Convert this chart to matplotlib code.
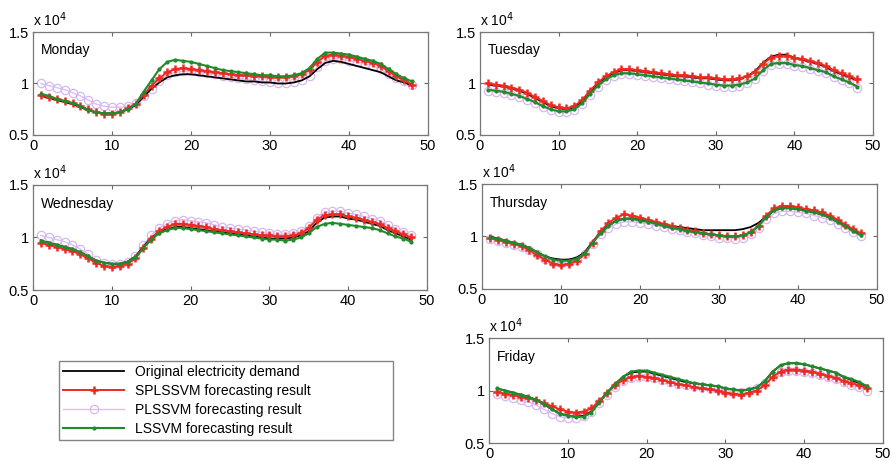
import matplotlib.pyplot as plt
import numpy as np

plt.rcParams['font.family'] = ['Liberation Sans', 'DejaVu Sans']

# half-hour index, demand in units of 10^4
hours = list(range(1, 49))
days = ['Monday', 'Tuesday', 'Wednesday', 'Thursday', 'Friday']
labels = ['Original electricity demand', 'SPLSSVM forecasting result',
          'PLSSVM forecasting result', 'LSSVM forecasting result']

mon_orig = [0.88, 0.86, 0.84, 0.82, 0.80, 0.77, 0.74, 0.72, 0.71, 0.71, 0.72, 0.75, 0.79, 0.87, 0.95, 1.01,
            1.06, 1.08, 1.09, 1.09, 1.08, 1.07, 1.06, 1.05, 1.04, 1.03, 1.02, 1.02, 1.01, 1.01, 1.00, 1.00,
            1.01, 1.03, 1.07, 1.14, 1.20, 1.22, 1.21, 1.19, 1.17, 1.15, 1.13, 1.11, 1.07, 1.03, 1.01, 0.98]
mon_spl = [0.89, 0.87, 0.85, 0.83, 0.81, 0.78, 0.75, 0.72, 0.70, 0.70, 0.72, 0.76, 0.80, 0.89, 0.98, 1.05,
           1.11, 1.14, 1.15, 1.14, 1.13, 1.12, 1.11, 1.10, 1.09, 1.08, 1.08, 1.07, 1.07, 1.06, 1.06, 1.06,
           1.07, 1.09, 1.13, 1.21, 1.27, 1.28, 1.27, 1.26, 1.24, 1.22, 1.20, 1.17, 1.12, 1.07, 1.03, 0.99]
mon_pl = [1.00, 0.98, 0.96, 0.94, 0.91, 0.88, 0.84, 0.80, 0.78, 0.77, 0.77, 0.78, 0.81, 0.88, 0.95, 1.02,
          1.08, 1.11, 1.12, 1.12, 1.11, 1.10, 1.09, 1.07, 1.06, 1.05, 1.04, 1.03, 1.02, 1.01, 1.00, 1.00,
          1.01, 1.03, 1.07, 1.16, 1.22, 1.24, 1.24, 1.22, 1.21, 1.19, 1.17, 1.14, 1.09, 1.05, 1.02, 0.99]
mon_ls = [0.90, 0.88, 0.85, 0.83, 0.81, 0.78, 0.74, 0.72, 0.71, 0.71, 0.72, 0.75, 0.80, 0.92, 1.03, 1.14,
          1.21, 1.23, 1.22, 1.21, 1.19, 1.17, 1.15, 1.13, 1.12, 1.11, 1.10, 1.09, 1.08, 1.08, 1.07, 1.07,
          1.08, 1.10, 1.15, 1.24, 1.30, 1.30, 1.29, 1.28, 1.26, 1.24, 1.22, 1.19, 1.14, 1.09, 1.05, 1.02]

tue_orig = [0.99, 0.98, 0.97, 0.95, 0.93, 0.90, 0.86, 0.82, 0.78, 0.76, 0.75, 0.77, 0.83, 0.92, 1.00, 1.06,
            1.10, 1.13, 1.13, 1.12, 1.11, 1.10, 1.09, 1.08, 1.07, 1.07, 1.06, 1.05, 1.05, 1.04, 1.03, 1.03,
            1.04, 1.07, 1.12, 1.20, 1.26, 1.28, 1.28, 1.25, 1.23, 1.21, 1.19, 1.16, 1.12, 1.09, 1.06, 1.03]
tue_spl = [1.00, 0.99, 0.98, 0.96, 0.94, 0.91, 0.87, 0.83, 0.79, 0.77, 0.76, 0.78, 0.84, 0.93, 1.01, 1.07,
           1.11, 1.14, 1.14, 1.13, 1.12, 1.11, 1.10, 1.09, 1.08, 1.08, 1.07, 1.06, 1.06, 1.05, 1.04, 1.04,
           1.05, 1.07, 1.11, 1.19, 1.25, 1.27, 1.27, 1.25, 1.24, 1.22, 1.20, 1.17, 1.13, 1.10, 1.07, 1.04]
tue_pl = [0.93, 0.92, 0.91, 0.89, 0.87, 0.84, 0.81, 0.77, 0.74, 0.72, 0.72, 0.74, 0.80, 0.89, 0.97, 1.03,
          1.07, 1.09, 1.09, 1.08, 1.07, 1.06, 1.05, 1.04, 1.03, 1.02, 1.01, 1.00, 0.99, 0.98, 0.97, 0.97,
          0.98, 1.00, 1.04, 1.12, 1.18, 1.19, 1.19, 1.17, 1.16, 1.14, 1.12, 1.10, 1.06, 1.03, 1.00, 0.96]
tue_ls = [0.94, 0.93, 0.92, 0.90, 0.88, 0.85, 0.82, 0.78, 0.75, 0.73, 0.73, 0.75, 0.81, 0.90, 0.98, 1.04,
          1.08, 1.10, 1.10, 1.09, 1.08, 1.07, 1.06, 1.05, 1.04, 1.03, 1.02, 1.01, 1.00, 0.99, 0.98, 0.98,
          0.99, 1.01, 1.05, 1.13, 1.19, 1.20, 1.20, 1.18, 1.17, 1.15, 1.13, 1.11, 1.07, 1.04, 1.01, 0.97]

wed_orig = [0.97, 0.95, 0.93, 0.91, 0.89, 0.86, 0.82, 0.78, 0.76, 0.75, 0.75, 0.77, 0.82, 0.91, 1.00, 1.05,
            1.08, 1.10, 1.10, 1.09, 1.08, 1.07, 1.06, 1.05, 1.04, 1.03, 1.02, 1.01, 1.00, 0.99, 0.99, 0.99,
            1.00, 1.02, 1.06, 1.14, 1.19, 1.20, 1.20, 1.18, 1.17, 1.15, 1.13, 1.11, 1.07, 1.04, 1.01, 0.98]
wed_spl = [0.95, 0.93, 0.91, 0.89, 0.87, 0.84, 0.80, 0.76, 0.73, 0.72, 0.73, 0.75, 0.80, 0.90, 0.99, 1.06,
           1.10, 1.13, 1.13, 1.12, 1.11, 1.10, 1.08, 1.07, 1.06, 1.05, 1.04, 1.03, 1.02, 1.02, 1.01, 1.01,
           1.02, 1.04, 1.09, 1.17, 1.21, 1.22, 1.22, 1.20, 1.19, 1.17, 1.15, 1.13, 1.09, 1.06, 1.03, 1.00]
wed_pl = [1.02, 1.00, 0.98, 0.96, 0.93, 0.89, 0.84, 0.79, 0.76, 0.75, 0.75, 0.77, 0.82, 0.93, 1.02, 1.09,
          1.13, 1.16, 1.17, 1.16, 1.15, 1.14, 1.12, 1.10, 1.09, 1.08, 1.07, 1.06, 1.05, 1.04, 1.03, 1.03,
          1.04, 1.06, 1.11, 1.19, 1.24, 1.25, 1.25, 1.23, 1.22, 1.20, 1.18, 1.16, 1.12, 1.08, 1.05, 1.02]
wed_ls = [0.97, 0.95, 0.93, 0.91, 0.89, 0.86, 0.82, 0.78, 0.76, 0.75, 0.75, 0.77, 0.81, 0.90, 0.98, 1.04,
          1.07, 1.09, 1.09, 1.08, 1.07, 1.06, 1.05, 1.04, 1.03, 1.02, 1.01, 1.00, 0.99, 0.98, 0.98, 0.97,
          0.98, 1.00, 1.04, 1.10, 1.13, 1.14, 1.13, 1.12, 1.11, 1.10, 1.09, 1.07, 1.04, 1.01, 0.99, 0.96]

thu_orig = [1.00, 0.98, 0.96, 0.94, 0.92, 0.89, 0.85, 0.81, 0.79, 0.78, 0.78, 0.80, 0.85, 0.95, 1.04, 1.11,
            1.15, 1.17, 1.17, 1.16, 1.15, 1.13, 1.12, 1.10, 1.09, 1.08, 1.07, 1.06, 1.06, 1.06, 1.06, 1.06,
            1.07, 1.09, 1.13, 1.19, 1.25, 1.27, 1.27, 1.26, 1.25, 1.23, 1.21, 1.18, 1.14, 1.10, 1.06, 1.02]
thu_spl = [0.99, 0.97, 0.95, 0.93, 0.91, 0.87, 0.82, 0.78, 0.74, 0.73, 0.74, 0.77, 0.83, 0.94, 1.05, 1.13,
           1.18, 1.21, 1.20, 1.18, 1.16, 1.14, 1.12, 1.10, 1.08, 1.06, 1.05, 1.03, 1.02, 1.01, 1.00, 1.00,
           1.01, 1.04, 1.10, 1.20, 1.27, 1.29, 1.29, 1.28, 1.26, 1.25, 1.23, 1.20, 1.16, 1.11, 1.07, 1.03]
thu_pl = [0.98, 0.96, 0.94, 0.92, 0.90, 0.87, 0.83, 0.79, 0.76, 0.75, 0.76, 0.78, 0.83, 0.93, 1.02, 1.08,
          1.12, 1.14, 1.14, 1.13, 1.12, 1.10, 1.09, 1.07, 1.06, 1.04, 1.03, 1.01, 1.00, 0.99, 0.99, 0.98,
          0.99, 1.02, 1.08, 1.17, 1.22, 1.24, 1.24, 1.23, 1.22, 1.20, 1.18, 1.16, 1.12, 1.08, 1.04, 1.00]
thu_ls = [0.99, 0.98, 0.96, 0.94, 0.92, 0.89, 0.85, 0.81, 0.78, 0.77, 0.77, 0.79, 0.84, 0.94, 1.03, 1.10,
          1.15, 1.17, 1.17, 1.15, 1.14, 1.12, 1.10, 1.08, 1.07, 1.05, 1.04, 1.03, 1.02, 1.01, 1.00, 1.00,
          1.01, 1.04, 1.10, 1.19, 1.25, 1.27, 1.27, 1.26, 1.24, 1.23, 1.21, 1.18, 1.14, 1.10, 1.05, 1.01]

fri_orig = [1.02, 1.00, 0.98, 0.96, 0.94, 0.91, 0.87, 0.82, 0.78, 0.76, 0.75, 0.76, 0.80, 0.89, 0.98, 1.06,
            1.13, 1.17, 1.18, 1.18, 1.16, 1.14, 1.12, 1.10, 1.08, 1.07, 1.06, 1.05, 1.04, 1.02, 1.01, 1.00,
            1.01, 1.03, 1.09, 1.18, 1.24, 1.26, 1.26, 1.25, 1.23, 1.21, 1.19, 1.17, 1.13, 1.10, 1.07, 1.04]
fri_spl = [0.99, 0.97, 0.96, 0.94, 0.93, 0.91, 0.88, 0.85, 0.82, 0.80, 0.79, 0.80, 0.83, 0.90, 0.98, 1.05,
           1.10, 1.13, 1.14, 1.13, 1.12, 1.10, 1.08, 1.06, 1.05, 1.03, 1.02, 1.01, 1.00, 0.98, 0.97, 0.96,
           0.98, 1.00, 1.05, 1.13, 1.18, 1.20, 1.20, 1.19, 1.18, 1.16, 1.14, 1.12, 1.09, 1.07, 1.05, 1.02]
fri_pl = [0.97, 0.95, 0.93, 0.91, 0.89, 0.86, 0.82, 0.78, 0.75, 0.74, 0.74, 0.76, 0.80, 0.88, 0.96, 1.03,
          1.09, 1.12, 1.13, 1.13, 1.12, 1.10, 1.08, 1.06, 1.05, 1.04, 1.03, 1.02, 1.01, 1.00, 0.99, 0.99,
          1.00, 1.02, 1.07, 1.14, 1.18, 1.19, 1.19, 1.18, 1.17, 1.15, 1.13, 1.11, 1.08, 1.05, 1.03, 1.00]
fri_ls = [1.02, 1.00, 0.98, 0.96, 0.94, 0.91, 0.87, 0.82, 0.78, 0.76, 0.75, 0.75, 0.79, 0.89, 0.98, 1.06,
          1.13, 1.18, 1.19, 1.19, 1.17, 1.15, 1.13, 1.11, 1.09, 1.07, 1.06, 1.05, 1.04, 1.02, 1.01, 1.00,
          1.01, 1.03, 1.09, 1.18, 1.24, 1.26, 1.26, 1.25, 1.23, 1.21, 1.19, 1.17, 1.13, 1.11, 1.08, 1.04]

series = {
    'Monday': (mon_orig, mon_spl, mon_pl, mon_ls),
    'Tuesday': (tue_orig, tue_spl, tue_pl, tue_ls),
    'Wednesday': (wed_orig, wed_spl, wed_pl, wed_ls),
    'Thursday': (thu_orig, thu_spl, thu_pl, thu_ls),
    'Friday': (fri_orig, fri_spl, fri_pl, fri_ls),
}

W, H = 891, 461
boxes = {
    'Monday': (33, 32, 428, 135),
    'Tuesday': (480, 32, 873, 135),
    'Wednesday': (33, 185, 427, 290),
    'Thursday': (482, 184, 877, 289),
    'Friday': (489, 338, 883, 443),
}

fig = plt.figure(figsize=(W / 100, H / 100), dpi=100)
handles = None
for day in days:
    l, t, r, b = boxes[day]
    ax = fig.add_axes([l / W, 1 - b / H, (r - l) / W, (b - t) / H])
    orig, spl, pl, ls = series[day]
    h_orig, = ax.plot(hours, orig, color='black', lw=1.3, zorder=2)
    h_pl, = ax.plot(hours, pl, color='#d9bff2', lw=1.0, marker='o', ms=6,
                    mfc='none', mec='#d6b8f0', mew=0.9, zorder=1)
    h_spl, = ax.plot(hours, spl, color='#ec2a22', lw=1.4, marker='+', ms=6,
                     mew=1.8, zorder=3)
    h_ls, = ax.plot(hours, ls, color='#1f8b2c', lw=1.5, marker='.', ms=4,
                    zorder=4)
    handles = [h_orig, h_spl, h_pl, h_ls]

    ax.set_xlim(0, 50)
    ax.set_ylim(0.5, 1.5)
    ax.set_xticks([0, 10, 20, 30, 40, 50])
    ax.set_yticks([0.5, 1, 1.5])
    ax.set_yticklabels(['0.5', '1', '1.5'])
    ax.tick_params(direction='in', top=True, right=True, length=3,
                   labelsize=10.5, color='#666666', pad=3)
    for s in ax.spines.values():
        s.set_color('#777777')
        s.set_linewidth(0.9)
    ax.text(0.02, 0.89, day, transform=ax.transAxes, fontsize=10,
            va='top', ha='left')
    ax.text(0.0, 1.03, r'x 10$^4$', transform=ax.transAxes, fontsize=10,
            va='bottom', ha='left')

fig.legend(handles, labels, loc='lower left',
           bbox_to_anchor=(59 / W, 1 - 440 / H, (393 - 59) / W, (440 - 359) / H),
           mode='expand', fontsize=10, handlelength=4.4, frameon=True,
           fancybox=False, edgecolor='#666666', borderaxespad=0,
           labelspacing=0.36, borderpad=0.3)

fig.savefig('out.png', dpi=100)
